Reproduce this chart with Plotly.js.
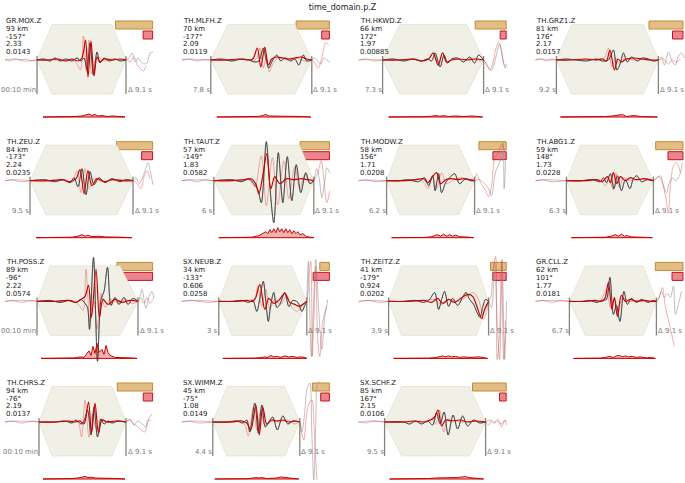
<!DOCTYPE html>
<html>
<head>
<meta charset="utf-8">
<script src="https://cdn.plot.ly/plotly-3.0.1.min.js"></script>
<style>
html, body { margin: 0; padding: 0; background: #fff; }
#plot { width: 685px; height: 483px; }
</style>
</head>
<body>
<div id="plot"></div>
<script>
// Station info shown in each panel
const stations = ["GR.MOX.Z", "TH.MLFH.Z", "TH.HKWD.Z", "TH.GRZ1.Z",
                  "TH.ZEU.Z", "TH.TAUT.Z", "TH.MODW.Z", "TH.ABG1.Z",
                  "TH.POSS.Z", "SX.NEUB.Z", "TH.ZEITZ.Z", "GR.CLL.Z",
                  "TH.CHRS.Z", "SX.WIMM.Z", "SX.SCHF.Z"];
const distKm = [93, 70, 66, 81, 84, 57, 58, 59, 89, 34, 41, 62, 94, 45, 85];
const azimuth = [-157, -177, 172, 176, -173, -149, 156, 148, -96, -133, -179, 101, -76, -75, 167];
const normVal = ["2.33", "2.09", "1.97", "2.17", "2.24", "1.83", "1.71", "1.73",
                 "2.22", "0.606", "0.924", "1.77", "2.19", "1.08", "2.15"];
const misfitVal = ["0.0143", "0.0119", "0.00885", "0.0157", "0.0235", "0.0582", "0.0208", "0.0228",
                   "0.0574", "0.0258", "0.0202", "0.0181", "0.0137", "0.0149", "0.0106"];
const startLabel = ["00:10 min", "7.8 s", "7.3 s", "9.2 s", "9.5 s", "6 s", "6.2 s", "6.3 s",
                    "00:10 min", "3 s", "3.9 s", "6.7 s", "00:10 min", "4.4 s", "9.5 s"];
const spanLabel = "\u0394 9.1 s";

// taper corners (time samples): start, full-on, full-off, end
const taper = [[37,52,112,126], [34,51,118,135], [29,46,113,130], [26,41,113,128],
               [30,46,117,133], [37,55,123,137], [33,46,105,121], [36,50,106,123],
               [37,50,120,138], [42,55,115,130], [35,48,123,135], [39,55,113,126],
               [39,52,112,126], [36,50,108,123], [31,48,116,132]];

// weight (tan) and misfit contribution (red) bars
const weightBar = [37, 33.3, 31, 34, 36, 29.3, 27.3, 27.3, 35.7, 9.6, 15.7, 27.7, 35.3, 17, 33.7];
const misfitBar = [9.5, 7.7, 6, 10.5, 11, 37.3, 13.3, 15, 36.7, 16.3, 13.3, 11, 9.3, 8.7, 6.7];

// observed trace before the window (grey)
const obsLeft = [
  [[5,1],[10,-1],[15,1],[20,0],[26,1],[32,-1],[37,0]],
  [[5,0],[12,1],[20,-1],[27,0.5],[34,0]],
  [[5,0],[12,1],[20,-1],[29,0]],
  [[5,0],[10,1],[16,-1],[21,1],[26,0]],
  [[5,0],[12,1],[20,-1],[30,0]],
  [[5,0],[12,1],[20,-1],[28,1],[37,0]],
  [[5,0],[12,1],[22,-1],[33,0]],
  [[5,0],[12,1],[22,-1],[36,0]],
  [[5,0],[12,1],[22,-1],[30,1],[37,0]],
  [[5,0],[12,1],[22,0],[32,-1],[42,0]],
  [[5,0],[15,1],[25,-1],[35,0]],
  [[5,0],[12,1],[22,-1],[30,1],[39,0]],
  [[5,0],[12,1],[22,-1],[32,1],[39,0]],
  [[5,0],[12,1],[22,-1],[36,0]],
  [[5,0],[12,-1],[20,1],[31,0]]
];

// observed trace inside the window (black)
const obsWin = [
  [[37,0],[44,1],[50,-1],[55,2],[60,-1],[66,1],[72,-1],[77,2],[81,-1],[84,2],[87,-10],[90,17],[93.5,-15],[97,8],[100,-3],[104,2],[109,-1],[115,1],[120,-1],[126,0]],
  [[34,0],[45,1],[55,-1],[65,1],[72,0],[78,-2],[82,-1],[86.5,12],[89,2],[92,-8],[95,-2],[100,5],[104,-1],[108,2],[114,-1],[118,1],[122,-5],[126.5,5],[130,-1],[135,0]],
  [[29,0],[40,1],[50,-1],[60,1],[68,-1],[74,1],[78,-1],[81.5,7],[86.5,-7],[90.5,5],[94,-3],[98,1],[104,2],[110,-2],[116,3],[121,-3],[125,5],[130,0]],
  [[26,0],[36,1],[46,0],[56,-1],[66,1],[72,-1],[78,0],[83,10],[86.5,-10],[90,-3],[93,7],[97,-2],[101,3],[107,-1],[112,2],[118,1],[123,-1],[128,0]],
  [[30,0],[45,1],[55,-1],[63,1],[70,-2],[74,3],[78,-6],[82,12],[86,-14],[90,9],[94,-4],[99,3],[105,-2],[112,2],[120,-1],[126,1],[133,0]],
  [[37,0],[55,1],[65,-1],[72,2],[77,-3],[81,-9],[84.5,-22],[89.5,39],[93,-5],[97,-42],[101.5,28],[106,-22],[110.5,24],[115,-20],[119.5,16],[124,-12],[129,8],[133,-3],[137,0]],
  [[33,0],[45,0],[55,1],[65,-1],[71,3],[75,-5],[79,5],[81.5,-10],[85,7],[88,-12],[92,-2],[96,3],[101,7],[106,-3],[112,2],[117,0],[121,0]],
  [[36,0],[50,0],[62,1],[70,-1],[73,3],[76,-2],[80,7],[83.5,-8],[87,5],[91,-10],[95,1],[99.5,-8],[103,2],[106.5,5],[111,-1],[117,1],[123,0]],
  [[37,0],[50,1],[60,-1],[70,1],[76,-1],[81,2],[85,-2],[87.5,-6],[89.5,-28],[93.5,44],[97.5,-60],[101,2],[104,10],[107.5,34],[111,-4],[115,4],[119,-3],[124,4],[128,-3],[133,3],[138,0]],
  [[42,0],[55,0],[65,1],[72,-1],[76,1],[80,-10],[83,3],[86.5,20],[89,0],[91.5,-20],[94,-3],[97,9],[100,-6],[103,-3],[108,9],[112,-5],[116,1],[121,-1],[125,-10],[128,-4],[130,0]],
  [[35,0],[50,0],[62,1],[70,-1],[76,2],[81,9],[85,-8],[88,2],[91,10],[95,-5],[99,3],[104,-4],[109,4],[112.5,9],[116,2],[120,-3],[123,-10],[126.5,-16],[129,-6],[132,2],[135,0]],
  [[39,0],[52,0],[60,1],[66,-1],[72,1],[76,2],[79.5,24],[83,-13],[86,-4],[89.5,-20],[93.5,10],[97,-3],[101,3],[106,-1],[111,2],[118,-1],[122,1],[126,0]],
  [[39,0],[55,0],[65,1],[72,-1],[76,2],[81,-2],[84,1],[87.5,12],[91,-13],[94,15],[97.5,-15],[101,3],[104,-2],[108,1],[112,-1],[118,1],[126,0]],
  [[36,0],[50,0],[60,1],[66,-1],[70,2],[73,-10],[78,19],[81.5,-11],[85,17],[88.5,-5],[92,0],[96,5],[100.5,-8],[106,6],[111,-2],[116,1],[123,0]],
  [[31,0],[50,0],[56,-2],[62,1],[68,-2],[74,1],[79,-3],[83,9],[86.5,-2],[90.5,10],[94.5,-13],[99.5,7],[104,-7],[109,6],[114,-4],[120,2],[126,-1],[132,0]]
];

// observed trace after the window (grey)
const obsRight = [
  [[126,0],[129,2],[132,7],[135,-2],[138,2],[141,-2],[144,-4],[147,-3],[150,7],[153,8]],
  [[135,0],[138,2],[141,-1],[144,-4],[147,2],[150,0],[153,-2]],
  [[130,0],[133,-5],[138,-10],[142,2],[146,16],[149,3],[151.5,-8],[153,-4]],
  [[128,0],[131,3],[134,-5],[138,8],[142,-2],[145,-5],[148,4],[151,7],[154,2]],
  [[133,0],[136,3],[139,-3],[142,2],[145,10],[148,18],[151,6],[153,-4]],
  [[137,0],[140,12],[142.5,2],[145,-17],[148,0],[150,13],[153,8]],
  [[121,0],[126,1],[131,-3],[135,-8],[138,-15],[141,4],[143,12],[146,18],[148,30],[149.5,38],[150.5,-8],[152,20]],
  [[123,0],[127,3],[130,5],[133,-5],[136,-12],[139,-2],[142,3],[145,0],[148,3],[150,8],[152,18]],
  [[138,0],[140,5],[142,12],[144,2],[146,-7],[149,5],[152,10],[154,2]],
  [[130,0],[131.5,40],[134.5,-55],[137,5],[139,42],[142,-10],[145,-48],[148,-15],[151,2]],
  [[135,0],[138,-6],[141,38],[143.5,-20],[146,-58],[148.5,42],[151,-58],[153,0]],
  [[126,0],[129,4],[131,10],[134,4],[137,8],[140,4],[143,15],[145,-13],[148,-3],[151,10]],
  [[126,0],[130,3],[134,-3],[138,1],[142,-2],[146,-5],[149,4],[152,8]],
  [[123,0],[125,-10],[128,10],[130,32],[133,39],[135,-10],[137,-58],[139,0],[141,39],[143,40]],
  [[132,0],[135,-3],[138,2],[141,-1],[144,1],[147,-2],[150,0],[153,2]]
];

// synthetic trace inside the window (red)
const synWin = [
  [[37,0],[48,0],[58,1],[66,-1],[72,1],[78,-1],[82,2],[85.5,20],[88,-17],[91,19],[94,-16],[97,3],[100,-2],[104,1],[112,0],[120,1],[126,0]],
  [[34,0],[50,0],[62,1],[70,0],[76,1],[80.5,12],[84,-7],[88,13],[91.5,-5],[95,1],[100,3],[106,2],[112,1],[118,2],[124,3],[130,1],[135,0]],
  [[29,0],[45,0],[58,1],[68,-1],[75,1],[79.5,7],[84.5,-5],[89,7],[93,-2],[98,0],[106,1],[114,0],[122,1],[130,0]],
  [[26,0],[40,0],[55,1],[65,0],[72,1],[76,-1],[79.5,10],[84,-10],[87.5,1],[91,-2],[96,1],[104,2],[112,1],[120,0],[128,0]],
  [[30,0],[50,0],[62,1],[70,-1],[76,2],[80,11],[84,-13],[88,10],[92,-5],[97,2],[104,-1],[112,1],[122,0],[133,0]],
  [[37,0],[55,0],[68,1],[74,2],[79,-3],[82,-13],[86,5],[90,27],[94,-8],[98,4],[103,-3],[110,2],[117,1],[125,2],[131,1],[137,0]],
  [[33,0],[50,0],[62,1],[70,2],[74,-2],[79,4],[83,8],[87,-3],[92,1],[98,2],[104,1],[110,2],[116,1],[121,0]],
  [[36,0],[55,0],[66,1],[72,-1],[77,4],[80,-2],[83,8],[86.5,-3],[90,4],[95,0],[100,3],[106,1],[114,2],[123,0]],
  [[37,0],[55,0],[68,1],[76,-1],[81,2],[85,5],[88.5,16],[91.5,-16],[96,32],[99.5,-16],[103,2],[108,-3],[115,2],[122,-1],[130,1],[138,0]],
  [[42,0],[60,0],[70,1],[76,0],[79,4],[83,17],[88,-8],[92,3],[97,-2],[102,1],[108,8],[113,-1],[118,-3],[123,-5],[127,-2],[130,0]],
  [[35,0],[55,0],[70,1],[78,-1],[84,3],[89,-2],[95,2],[101,-1],[107,3],[114.5,7],[119,5],[123,-4],[128,-17],[131,-8],[135,0]],
  [[39,0],[55,0],[65,1],[71,0],[74.5,3],[78,19],[81.5,-8],[84,4],[87,-15],[91,6],[95,0],[100,2],[106,0],[114,1],[120,0],[126,0]],
  [[39,0],[55,0],[68,1],[75,0],[80,1],[84,-2],[88.5,20],[91.5,-11],[95,19],[98.5,-11],[102,2],[107,0],[115,1],[126,0]],
  [[36,0],[55,0],[65,1],[70,-1],[74,-8],[79,17],[82.5,-13],[86,15],[90,-2],[95,2],[100,1],[106,2],[112,0],[118,1],[123,0]],
  [[31,0],[50,0],[60,1],[70,0],[77,2],[81,5],[84.5,12],[88,-4],[92,2],[98,1],[106,2],[114,0],[122,1],[132,0]]
];

// full synthetic trace, untapered (faint red)
const synFull = [
  [[5,0],[15,1],[25,-1],[37,0],[55,0],[65,-1],[72,1],[77,-4],[80.5,-10],[83.5,24],[86.5,-12],[89,20],[91.5,-14],[94.5,-2],[98,3],[104,-1],[112,1],[120,0],[126,1],[130,-2],[134,3],[138,-6],[141,-9],[143.5,-11],[146,-6]],
  [[5,0],[15,1],[25,0],[34,0],[55,0],[68,1],[76,-1],[80,2],[83,12],[86.5,-8],[89.5,3],[92.5,-12],[96,-4],[102,2],[110,0],[120,2],[128,-1],[135,0],[138,-3],[141.5,-8],[145,3],[149,17],[152,15]],
  [[5,0],[15,0.5],[29,0],[50,0],[62,1],[70,-1],[76,2],[80,8],[85,-6],[89,8],[93,-3],[100,1],[110,0],[120,2],[126,-1],[130,0],[133,-4],[136,-10],[139,-4],[142,10],[145,18],[148,8],[150,-4],[152,-6]],
  [[5,0],[12,1],[20,0],[26,0],[45,0],[60,1],[68,0],[74,2],[78,12],[81.5,-7],[85,2],[88,-3],[94,1],[104,0],[115,1],[124,-1],[128,0],[133,1],[138,-4],[142,0],[146,-2],[150,1]],
  [[5,0],[18,1],[30,0],[55,0],[66,1],[72,-2],[77,10],[81,-12],[85,12],[89,-8],[94,2],[102,-1],[115,1],[133,0],[137,-3],[141,-8],[144,4],[147,10],[150,2]],
  [[5,0],[20,1],[37,0],[60,0],[72,1],[78,-6],[84.5,25],[89.5,-25],[95.5,23],[101,-24],[107,20],[112,-18],[118,14],[123,-8],[128,6],[134,-2],[137,0],[141,8],[144.5,20],[147,2],[150,-22],[153,-10]],
  [[5,0],[18,0.5],[33,0],[55,0],[66,1],[71,-3],[74.5,-8],[79,5],[83,-8],[88,8],[93,-3],[100,1],[108,3],[114,1],[121,2],[123,7],[127,-2],[131,-8],[135,-16],[138,-5],[141,22],[145,28],[148,37],[151,30]],
  [[5,0],[18,1],[36,0],[58,0],[70,1],[75,-5],[79,3],[82.5,-9],[85.5,8],[89,-7],[93,3],[100,0],[110,2],[118,1],[123,0],[126,3],[129,4],[132,-2],[135,-15],[138,-32],[140,-5],[143,15],[146,18],[150,8]],
  [[5,0],[20,1],[37,0],[60,0],[72,1],[79,-4],[83,-9],[86,32],[90,-20],[94,0],[97,-28],[101,8],[105,-6],[110,2],[118,-1],[126,2],[132,-2],[138,0],[141,4],[144,-2],[147,4],[150,-2],[153,2]],
  [[5,0],[20,1],[42,0],[62,0],[72,1],[78,3],[81,15],[85,-5],[89,12],[93,-8],[98,2],[104,-3],[110,6],[115,-6],[120,-10],[125,-5],[130,2],[132,25],[134,40],[135.5,-55],[137,-20],[139,35],[141,-40],[143,-55],[146,-20],[150,-5]],
  [[5,0],[20,1],[35,0],[58,0],[72,1],[80,2],[88,-3],[96,2],[104,0],[112,4],[119.5,9],[124,4],[127,-5],[130,-18],[133,-10],[135,0],[137,3],[139.5,32],[142,45],[143.5,-58],[146,-30],[148,40],[150,-58],[152,-20]],
  [[5,0],[18,1],[39,0],[60,0],[70,1],[76,12],[80,-6],[84,3],[88,-10],[92,4],[98,0],[108,1],[118,0],[126,0],[129,5],[132,14],[135,-6],[138,-18],[141,-32],[144,-45]],
  [[5,0],[20,1],[39,0],[60,0],[72,1],[78,0],[81.5,-15],[85,22],[89,-15],[92.5,8],[96,-6],[100,3],[108,0],[118,1],[126,0],[130,2],[134,-2],[138,-5],[141,-8],[145,-10],[148,2],[151,1]],
  [[5,0],[20,1],[36,0],[55,0],[64,1],[68,-3],[71.5,-14],[76.5,15],[80,-8],[84,12],[88,-3],[94,1],[102,0],[110,2],[118,-2],[123,0],[125,-12],[127,-18],[129.5,5],[132,18],[135,22],[137.5,-10],[140,-58]],
  [[5,0],[18,1],[31,0],[55,0],[65,1],[72,0],[78,3],[82,-2],[86,12],[90,-10],[94,3],[100,1],[110,0],[120,1],[132,0],[136,2],[140,-1],[144,3],[148,-5],[151,2],[153,-3]]
];

// misfit along the window (drawn below each trace)
const misfitCurve = [
  [[43,0],[55,0],[65,0.3],[75,0.5],[82,1],[86,2],[89,3],[92,1.5],[95,2.5],[98,1],[102,1.5],[107,0.5],[113,1],[118,0.5],[125,0]],
  [[40,0],[60,0],[75,0.3],[82,0.6],[86,1.5],[89,2.5],[92,1],[96,1],[102,0.5],[108,1],[114,0.5],[120,1],[126,0.5],[134,0]],
  [[35,0],[55,0],[70,0.3],[78,0.8],[82,1.5],[86,0.8],[90,1.3],[95,0.5],[102,1],[110,0.5],[118,1],[124,0.5],[129,0]],
  [[30,0],[50,0],[65,0.3],[75,0.5],[82,1],[88,2],[92,2.5],[96,0.5],[104,1.5],[110,0.5],[118,0.5],[127,0]],
  [[36,0],[60,0],[72,0.5],[78,1.5],[82,3],[85,1.5],[88,2.5],[92,1],[98,1.5],[105,0.8],[112,1],[120,0.5],[132,0]],
  [[42,0],[65,0],[75,0.5],[82,2],[86,4],[89,6],[91,4],[93,8],[95,5],[97,9],[99,5],[101,10],[103,6],[105,9],[107,5],[109,9],[111,5],[113,8],[115,4],[117,7],[119,4],[121,6],[123,3],[126,4],[130,1],[137,0]],
  [[38,0],[60,0],[72,0.3],[78,1],[84,3],[87,1.5],[90,3.5],[93,1.5],[96,3],[99,1.5],[102,2.5],[106,1],[110,1],[116,0.5],[120,0]],
  [[41,0],[65,0],[75,0.5],[81,1.5],[85,3],[88,1.5],[91,3.5],[94,1.5],[97,2],[101,0.8],[106,0.8],[114,0.4],[122,0]],
  [[41,0],[65,0],[75,0.5],[80,1.5],[84,1],[87,5],[89,7.5],[91,3],[93,12],[95,5],[97,15],[99,6],[102,9],[104,4],[106,13],[108,6],[110,3],[115,1],[122,1],[130,0.5],[137,0]],
  [[46,0],[70,0],[78,0.3],[84,0.8],[88,1.5],[91,1],[94,3],[97,1.5],[100,2],[104,1],[108,2.5],[112,1.5],[116,2],[120,1],[124,1.5],[128,1],[130,0]],
  [[40,0],[65,0],[75,0.3],[82,0.8],[86,1.5],[89,2.5],[92,1.5],[95,2.5],[98,1.5],[102,2],[106,1],[110,1.5],[115,1],[120,1],[126,1.5],[131,0.5],[134,0]],
  [[43,0],[60,0],[70,0.3],[75,1],[79,2],[83,1],[86,2.5],[89,3],[92,1.5],[95,2.5],[98,1.5],[102,2],[106,1],[110,1.5],[116,0.5],[120,1],[125,0]],
  [[43,0],[65,0],[72,0.5],[78,1],[82,1.5],[85,2.5],[88,1.5],[91,1.8],[95,1],[100,1],[108,0.5],[116,0.5],[125,0]],
  [[38,0],[60,0],[70,0.3],[75,0.8],[79,1.5],[82,1],[85,1.5],[90,0.5],[96,0.5],[100,1],[104,2],[108,1.5],[112,1],[118,0.5],[122,0]],
  [[36,0],[55,0],[65,0.5],[75,0.5],[82,1],[88,1],[94,1.5],[100,1],[104,1.5],[108,2],[112,2.5],[115,1.5],[120,1],[126,0.5],[130,0]]
];

// page geometry (pixels)
const W = 685, H = 483;
const COL_X = [0, 176.8, 353.6, 530.4];
const ROW_BASE = [60, 180.7, 301.4, 422];
const X_SPAN = 154.5;
const Y_LO = -60, Y_HI = 48;
const TAPER_TOP = 35.5, TAPER_BOT = -34;
const MIS_BASE = -57;
const BAR_RIGHT = 152.6;
const FONT = "DejaVu Sans";

const xs = pts => pts.map(p => p[0]);
const ys = pts => pts.map(p => p[1]);

const traces = [];
const annotations = [];
const layout = {
    width: W, height: H,
    margin: { l: 0, r: 0, t: 0, b: 0 },
    paper_bgcolor: "#fff", plot_bgcolor: "rgba(0,0,0,0)",
    showlegend: false,
    barmode: "overlay",
    font: { family: FONT, size: 7, color: "#222" },
    title: {
        text: "time_domain.p.Z", x: 0.5, xref: "paper",
        y: 1 - 7 / H, yref: "container", yanchor: "middle",
        font: { family: FONT, size: 8, color: "#222" },
    },
    annotations: annotations,
};

stations.forEach((name, i) => {
    const col = i % 4, row = Math.floor(i / 4);
    const s = i === 0 ? "" : String(i + 1);
    const xa = "x" + s, ya = "y" + s;
    const by = ROW_BASE[row];
    layout["xaxis" + s] = {
        domain: [COL_X[col] / W, (COL_X[col] + X_SPAN) / W],
        range: [0, X_SPAN], anchor: ya, visible: false, fixedrange: true,
    };
    layout["yaxis" + s] = {
        domain: [(H - (by - Y_LO)) / H, (H - (by - Y_HI)) / H],
        range: [Y_LO, Y_HI], anchor: xa, visible: false, fixedrange: true,
    };

    const [t0, t1, t2, t3] = taper[i];
    const common = { xaxis: xa, yaxis: ya, hoverinfo: "skip", type: "scatter" };

    // taper window
    traces.push({ ...common, mode: "lines",
        x: [t0, t1, t2, t3, t2, t1, t0],
        y: [0, TAPER_TOP, TAPER_TOP, 0, TAPER_BOT, TAPER_BOT, 0],
        fill: "toself", fillcolor: "rgb(241,240,230)",
        line: { color: "rgb(222,219,203)", width: 0.6 } });

    // full traces: observed grey, synthetic faint red
    const obsAll = obsLeft[i].concat(obsWin[i], obsRight[i]);
    traces.push({ ...common, mode: "lines", x: xs(obsAll), y: ys(obsAll),
        line: { color: "rgba(150,150,150,0.75)", width: 0.8, shape: "spline", smoothing: 0.9 } });
    traces.push({ ...common, mode: "lines", x: xs(synFull[i]), y: ys(synFull[i]),
        line: { color: "rgba(239,41,41,0.42)", width: 0.9, shape: "spline", smoothing: 0.9 } });

    // window edges
    traces.push({ ...common, mode: "lines",
        x: [t0, t0, null, t3, t3], y: [4, TAPER_BOT, null, 4, TAPER_BOT],
        line: { color: "rgba(105,102,85,0.8)", width: 1.3 } });

    // tapered observed (black) and synthetic (red)
    traces.push({ ...common, mode: "lines", x: xs(obsWin[i]), y: ys(obsWin[i]),
        line: { color: "rgba(46,52,54,0.85)", width: 1, shape: "spline", smoothing: 0.9 } });
    traces.push({ ...common, mode: "lines", x: xs(synWin[i]), y: ys(synWin[i]),
        line: { color: "#cc0000", width: 1.2, shape: "spline", smoothing: 0.9 } });

    // misfit curve
    const m = misfitCurve[i];
    traces.push({ ...common, mode: "lines",
        x: xs(m).concat([m[m.length - 1][0], m[0][0]]),
        y: ys(m).map(v => MIS_BASE + v).concat([MIS_BASE, MIS_BASE]),
        fill: "toself", fillcolor: "rgba(204,0,0,0.3)",
        line: { color: "#cc0000", width: 1 } });

    // weight and misfit bars
    traces.push({ type: "bar", orientation: "h", xaxis: xa, yaxis: ya, hoverinfo: "skip",
        x: [weightBar[i]], base: [BAR_RIGHT - weightBar[i]], y: [35], width: [8],
        marker: { color: "rgba(224,187,128,0.95)", line: { color: "#c48a2c", width: 1 } } });
    traces.push({ type: "bar", orientation: "h", xaxis: xa, yaxis: ya, hoverinfo: "skip",
        x: [misfitBar[i]], base: [BAR_RIGHT - misfitBar[i]], y: [25], width: [8],
        marker: { color: "rgba(234,128,136,0.95)", line: { color: "#cc1020", width: 1 } } });

    // text block
    const lines = [name, distKm[i] + " km", azimuth[i] + "\u00b0", normVal[i], misfitVal[i]];
    lines.forEach((txt, k) => {
        annotations.push({ xref: xa, yref: ya, x: 6, y: 39 - 7.8 * k,
            xanchor: "left", yanchor: "middle", text: txt, showarrow: false,
            borderpad: 0, borderwidth: 0,
            font: { family: FONT, size: 7, color: "#1a1a1a" } });
    });
    annotations.push({ xref: xa, yref: ya, x: t0 - 0.8, y: -30,
        xanchor: "right", yanchor: "middle", text: startLabel[i], showarrow: false,
        borderpad: 0, borderwidth: 0,
        font: { family: FONT, size: 6.9, color: "#7a7a7a" } });
    annotations.push({ xref: xa, yref: ya, x: t3 + 1.5, y: -30,
        xanchor: "left", yanchor: "middle", text: spanLabel, showarrow: false,
        borderpad: 0, borderwidth: 0,
        font: { family: FONT, size: 7, color: "#7a7a7a" } });
});

Plotly.newPlot("plot", traces, layout, { staticPlot: true });
</script>
</body>
</html>
